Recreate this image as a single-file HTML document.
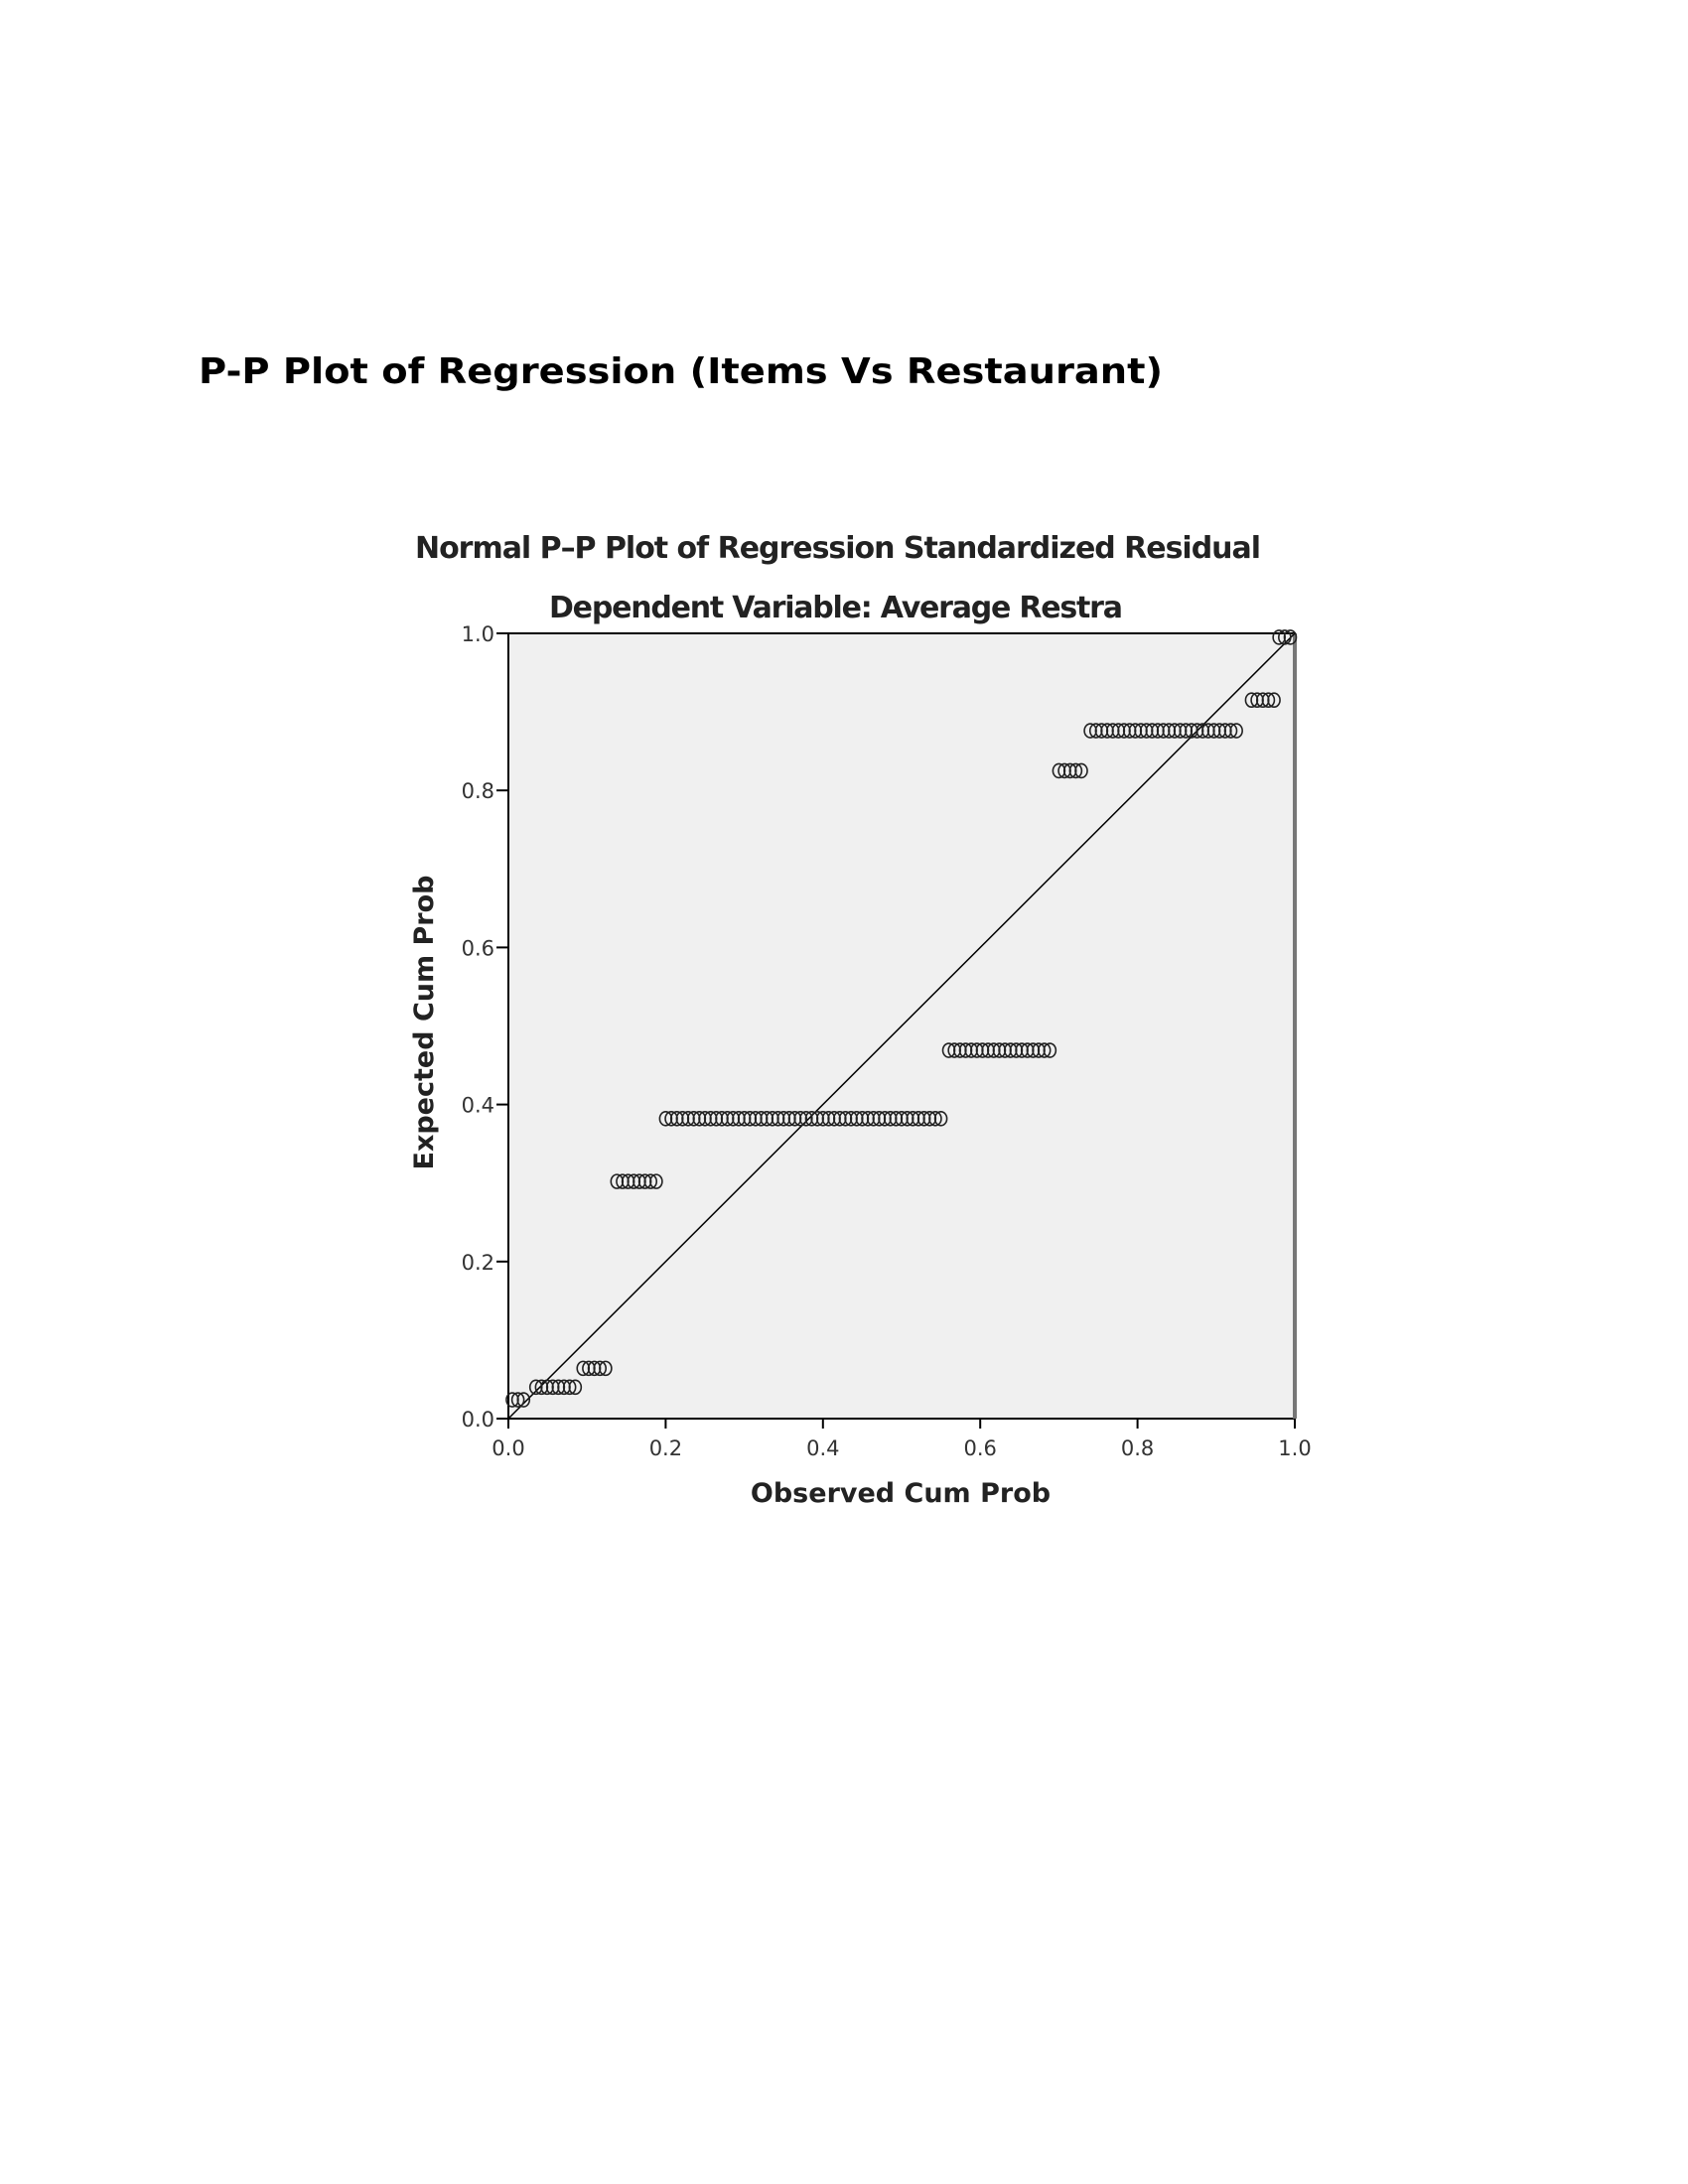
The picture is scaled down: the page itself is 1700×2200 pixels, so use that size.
<!DOCTYPE html>
<html><head><style>
body{margin:0;background:#fff;}
svg{display:block}
</style></head><body>
<svg width="1700" height="2200" xmlns="http://www.w3.org/2000/svg" id="s">
<text x="200" y="386" font-family="DejaVu Sans, Liberation Sans, sans-serif" font-weight="bold" font-size="36" textLength="971" lengthAdjust="spacingAndGlyphs">P-P Plot of Regression (Items Vs Restaurant)</text>
<text x="844" y="562" text-anchor="middle" font-family="DejaVu Sans, Liberation Sans, sans-serif" font-weight="bold" font-size="30" fill="#222" textLength="852">Normal P–P Plot of Regression Standardized Residual</text>
<text x="842" y="622" text-anchor="middle" font-family="DejaVu Sans, Liberation Sans, sans-serif" font-weight="bold" font-size="30" fill="#222" textLength="578">Dependent Variable: Average Restra</text>
<rect x="512" y="638" width="792" height="791" fill="#f0f0f0" stroke="#000" stroke-width="2"/>
<line x1="1304" y1="638" x2="1304" y2="1429" stroke="#777" stroke-width="4"/>
<line x1="512" y1="1429" x2="1304" y2="638" stroke="#000" stroke-width="1.5"/>
<g id="pts" fill="none" stroke="#222" stroke-width="1.6"></g>
<g font-family="DejaVu Sans, Liberation Sans, sans-serif" font-size="21" fill="#333" id="ticks"></g>
<text x="907" y="1513" text-anchor="middle" font-family="DejaVu Sans, Liberation Sans, sans-serif" font-weight="bold" font-size="27" fill="#222">Observed Cum Prob</text>
<text transform="translate(436,1030) rotate(-90)" text-anchor="middle" font-family="DejaVu Sans, Liberation Sans, sans-serif" font-weight="bold" font-size="27" fill="#222">Expected Cum Prob</text>
</svg>
<script>
var ns="http://www.w3.org/2000/svg";
function px(f){return 512+f*792;} function py(v){return 1429-v*791;}
var g=document.getElementById('pts');
var groups=[[0.024,0.005,0.02],[0.04,0.035,0.085],[0.064,0.095,0.13],[0.302,0.138,0.195],[0.382,0.2,0.555],[0.469,0.56,0.695],[0.825,0.7,0.73],[0.876,0.74,0.93],[0.915,0.945,0.975],[0.995,0.98,1.0]];
var step=1/140;
groups.forEach(function(a){
  for(var f=a[1];f<=a[2]+1e-6;f+=step){
    var c=document.createElementNS(ns,'ellipse');
    c.setAttribute('cx',px(f));c.setAttribute('cy',py(a[0]));
    c.setAttribute('rx',6);c.setAttribute('ry',7);g.appendChild(c);
  }
});
var t=document.getElementById('ticks');
['0.0','0.2','0.4','0.6','0.8','1.0'].forEach(function(s,i){
  var v=i*0.2;
  var l=document.createElementNS(ns,'line');
  l.setAttribute('x1',500);l.setAttribute('x2',512);l.setAttribute('y1',py(v));l.setAttribute('y2',py(v));
  l.setAttribute('stroke','#000');l.setAttribute('stroke-width',2);t.appendChild(l);
  var tx=document.createElementNS(ns,'text');
  tx.setAttribute('x',498);tx.setAttribute('y',py(v)+8);tx.setAttribute('text-anchor','end');tx.textContent=s;t.appendChild(tx);
  var l2=document.createElementNS(ns,'line');
  l2.setAttribute('x1',px(v));l2.setAttribute('x2',px(v));l2.setAttribute('y1',1429);l2.setAttribute('y2',1439);
  l2.setAttribute('stroke','#000');l2.setAttribute('stroke-width',2);t.appendChild(l2);
  var tx2=document.createElementNS(ns,'text');
  tx2.setAttribute('x',px(v));tx2.setAttribute('y',1466);tx2.setAttribute('text-anchor','middle');tx2.textContent=s;t.appendChild(tx2);
});
</script>
</body></html>
